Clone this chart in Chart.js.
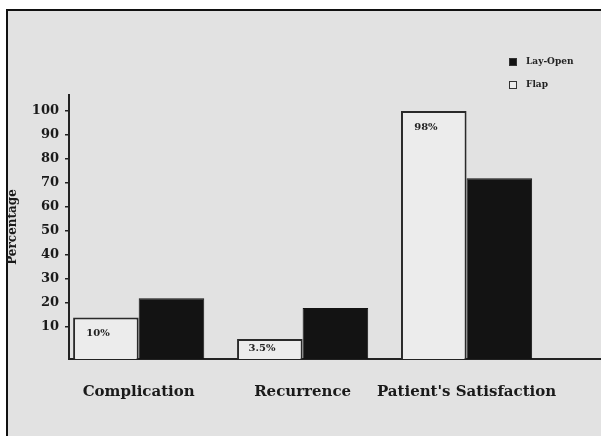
<!DOCTYPE html>
<html lang="en">
<head>
  <meta charset="UTF-8">
  <title>Complication, Recurrence, Patient's Satisfaction</title>
  <script src="https://cdn.jsdelivr.net/npm/chart.js"></script>
  <style>
    body { margin: 0; background: #ffffff; }
    #frame {
      position: absolute; left: 6px; top: 9px; right: 0; bottom: 0;
      border-left: 2px solid #111; border-top: 2px solid #111;
      background: #e2e2e2;
    }
    #chart { position: absolute; left: 0; top: 0; }
  </style>
</head>
<body>
  <div id="frame"></div>
  <canvas id="chart" width="601" height="436"></canvas>

  <script>
    // data
    const categories = ['Complication', 'Recurrence', "Patient's Satisfaction"];
    const flapValues = [14, 5, 100];
    const layOpenValues = [22, 18, 72];
    const flapLabels = ['10%', '3.5%', '98%'];
    const yTicks = [10, 20, 30, 40, 50, 60, 70, 80, 90, 100];

    const serif = '"DejaVu Serif", "Liberation Serif", serif';

    // labels written inside the flap bars
    const barTextPlugin = {
      id: 'barText',
      afterDatasetsDraw(chart) {
        const ctx = chart.ctx;
        const meta = chart.getDatasetMeta(0);
        ctx.save();
        ctx.font = 'bold 10px ' + serif;
        ctx.fillStyle = '#222';
        ctx.textAlign = 'center';
        ctx.textBaseline = 'middle';
        meta.data.forEach((bar, i) => {
          const p = bar.getProps(['x', 'y', 'base', 'width'], true);
          const tx = p.x - p.width * 0.12;
          const ty = Math.min(p.y + 16, p.base - 11);
          ctx.fillText(flapLabels[i], tx, ty);
        });
        ctx.restore();
      }
    };

    // small legend at top right: Lay-Open above Flap
    const legendPlugin = {
      id: 'cornerLegend',
      afterDraw(chart) {
        const ctx = chart.ctx;
        const order = [1, 0];
        ctx.save();
        ctx.font = 'bold 9px ' + serif;
        ctx.textBaseline = 'middle';
        order.forEach((di, row) => {
          const ds = chart.data.datasets[di];
          const y = 62 + row * 23;
          ctx.fillStyle = ds.backgroundColor;
          ctx.fillRect(509, y - 4, 8, 8);
          ctx.strokeStyle = '#333';
          ctx.lineWidth = 1;
          ctx.strokeRect(509.5, y - 3.5, 7, 7);
          ctx.fillStyle = '#222';
          ctx.fillText(ds.label, 526, y);
        });
        ctx.restore();
      }
    };

    new Chart(document.getElementById('chart'), {
      type: 'bar',
      data: {
        datasets: [
          {
            label: 'Flap',
            data: categories.map((c, i) => ({ x: i, y: flapValues[i] })),
            backgroundColor: '#ececec',
            borderColor: '#2a2a2a',
            borderWidth: 2,
            base: -3.3
          },
          {
            label: 'Lay-Open',
            data: categories.map((c, i) => ({ x: i, y: layOpenValues[i] })),
            backgroundColor: '#131313',
            borderColor: '#131313',
            borderWidth: 1,
            base: -3.3
          }
        ]
      },
      options: {
        responsive: false,
        animation: false,
        layout: { padding: { top: 95, right: 0, left: 0, bottom: 0 } },
        categoryPercentage: 0.8,
        barPercentage: 1.0,
        plugins: {
          legend: { display: false },
          tooltip: { enabled: false }
        },
        scales: {
          x: {
            type: 'linear',
            offset: false,
            min: -0.425,
            max: 2.82,
            afterBuildTicks: (scale) => {
              scale.ticks = categories.map((c, i) => ({ value: i }));
            },
            afterFit: (scale) => { scale.height = 77; },
            ticks: {
              callback: (v) => categories[v],
              color: '#1a1a1a',
              font: { family: serif, size: 15, weight: 'bold' },
              padding: 24,
              maxRotation: 0
            },
            grid: { display: false, drawTicks: false },
            border: { color: '#222', width: 2 }
          },
          y: {
            min: -3.3,
            max: 106.7,
            afterBuildTicks: (scale) => {
              scale.ticks = yTicks.map(v => ({ value: v }));
            },
            afterFit: (scale) => { scale.width = 69; },
            ticks: {
              color: '#1a1a1a',
              font: { family: serif, size: 13, weight: 'bold' },
              padding: 6
            },
            grid: { drawOnChartArea: false, tickLength: 4, color: '#222', lineWidth: 1.5 },
            border: { color: '#222', width: 2 },
            title: {
              display: true,
              text: 'Percentage',
              color: '#1a1a1a',
              font: { family: serif, size: 12, weight: 'bold' },
              padding: { top: 6, bottom: 0 }
            }
          }
        }
      },
      plugins: [barTextPlugin, legendPlugin]
    });
  </script>
</body>
</html>
